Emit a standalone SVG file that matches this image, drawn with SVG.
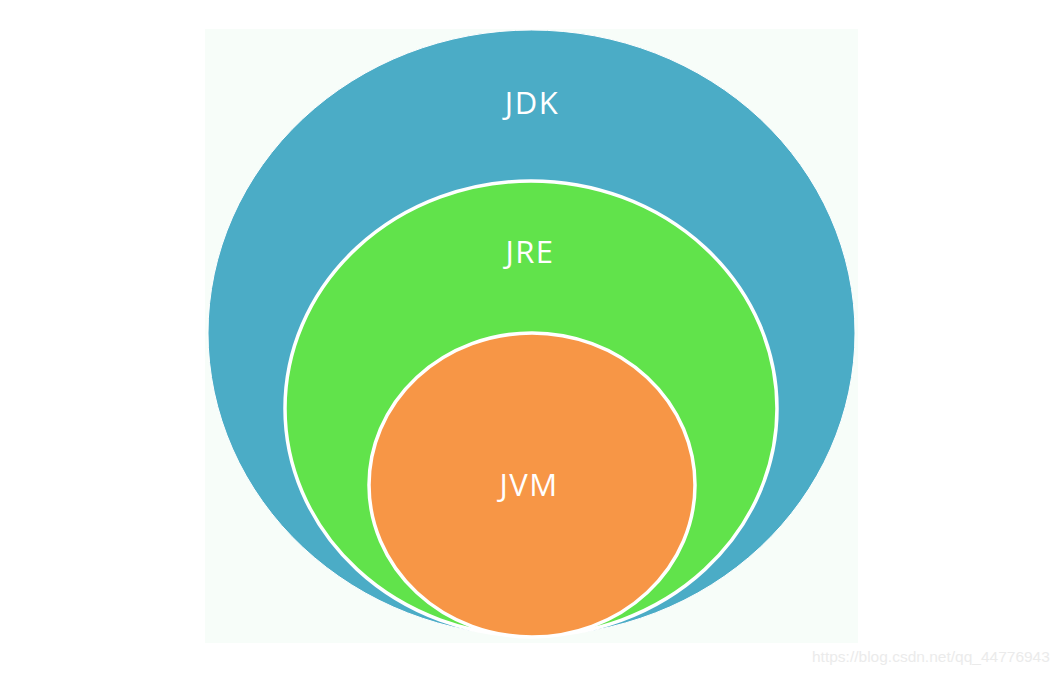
<svg xmlns="http://www.w3.org/2000/svg" width="1064" height="674" viewBox="0 0 1064 674">
  <style>
    .lbl { font-family: "Open Sans", "Noto Sans", "DejaVu Sans", sans-serif; font-size: 31px; fill: #ffffff; text-anchor: middle; letter-spacing: 1.5px; }
    .ring { stroke: #ffffff; stroke-width: 3.5; }
    .wm { font-family: "Liberation Sans", Arial, sans-serif; font-size: 15.5px; fill: #ebebeb; }
  </style>
  <rect x="0" y="0" width="1064" height="674" fill="#ffffff"/>
  <rect x="205" y="29" width="653" height="614" fill="#f7fdf9"/>
  <g id="jdk">
    <ellipse cx="531.5" cy="333" rx="323.5" ry="303" fill="#4bacc6" stroke="#ffffff" stroke-width="1"/>
    <text class="lbl" x="532" y="114">JDK</text>
  </g>
  <g id="jre">
    <ellipse class="ring" cx="531" cy="408.5" rx="246" ry="227.5" fill="#61e34b"/>
    <text class="lbl" x="530" y="263">JRE</text>
  </g>
  <g id="jvm">
    <ellipse class="ring" cx="532" cy="485" rx="163" ry="152" fill="#f79646"/>
    <text class="lbl" x="529" y="496">JVM</text>
  </g>
  <g id="connectors"></g>
  <text class="wm" x="812" y="662">https://blog.csdn.net/qq_44776943</text>
</svg>
